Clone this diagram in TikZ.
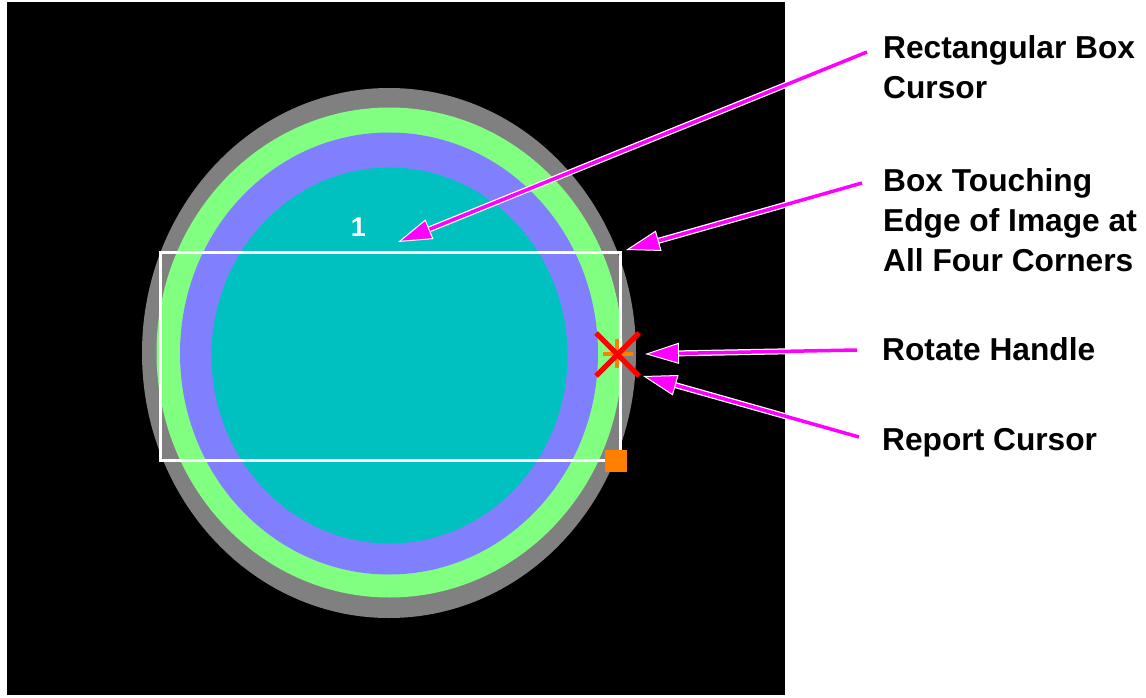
\documentclass[tikz,border=0pt]{standalone}
\usepackage{fontspec}
\setmainfont{Liberation Sans}
\usetikzlibrary{arrows.meta, calc}
\definecolor{ringgray}{RGB}{128,128,128}
\definecolor{ringgreen}{RGB}{128,255,128}
\definecolor{ringblue}{RGB}{128,128,255}
\definecolor{coreteal}{RGB}{0,192,192}
\definecolor{pointer}{RGB}{255,0,255}
\definecolor{handleorange}{RGB}{255,128,0}
\tikzstyle{callout} = [anchor=north west, inner sep=0pt, align=left, font=\fontsize{31.7}{40}\selectfont\bfseries]
\tikzstyle{pointerarrow} = [draw=pointer, line width=3.5pt, -{Triangle[length=34pt, width=21pt, color=white, fill=pointer, line width=1pt]}, preaction={draw=white, line width=6pt, shorten >=24pt, arrows=-}]

\begin{document}
\begin{tikzpicture}[x=1pt, y=-1pt]
\useasboundingbox (0,0) rectangle (1146,698);
\fill[white] (0,0) rectangle (1146,698);

% Image
\fill[black] (7,2) rectangle (785,695);
\fill[ringgray] (389,353) ellipse [x radius=247, y radius=265];
\fill[ringgreen] (389.5,352.5) ellipse [x radius=233, y radius=245];
\fill[ringblue] (389,353.5) ellipse [x radius=209, y radius=221];
\fill[coreteal] (389.5,355.5) ellipse [x radius=178, y radius=188];

% Box cursor and handles
\draw[white, line width=3pt] (160,252) rectangle (620,460);
\node (boxnum) [text=white, font=\fontsize{27}{32}\selectfont\bfseries] at (358.5,227.5) {1};
\draw[handleorange, line width=4pt] (603,354) -- (633,354) (617,339) -- (617,368);
\draw[red, line width=5pt] (596,333) -- (639,376) (596,376) -- (639,333);
\fill[handleorange] (605,450) rectangle (627,472);

% Tips
\coordinate (boxtip) at (398,242);
\coordinate (cornertip) at (626,250);
\coordinate (rotatetip) at (645,354);
\coordinate (reporttip) at (643,376);

% Labels
\node (boxlbl) [callout] at (883,35) {Rectangular Box\\Cursor};
\node (cornerlbl) [callout] at (883,168) {Box Touching\\Edge of Image at\\All Four Corners};
\node (rotatelbl) [callout] at (882,337) {Rotate Handle};
\node (reportlbl) [callout] at (882,428) {Report Cursor};

% Arrows
\draw [pointerarrow] ([xshift=-16pt,yshift=-17pt]boxlbl.north west) -- (boxtip);
\draw [pointerarrow] ([xshift=-21pt,yshift=-15pt]cornerlbl.north west) -- (cornertip);
\draw [pointerarrow] ([xshift=-25pt,yshift=-13pt]rotatelbl.north west) -- (rotatetip);
\draw [pointerarrow] ([xshift=-23pt,yshift=-9pt]reportlbl.north west) -- (reporttip);

\end{tikzpicture}
\end{document}
